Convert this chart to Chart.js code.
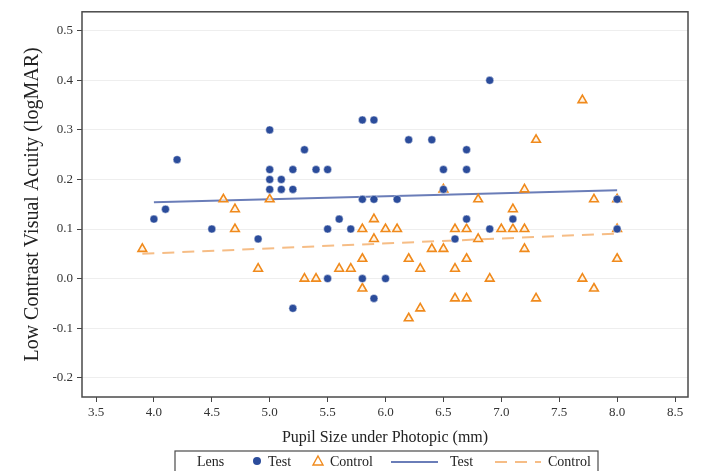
<!DOCTYPE html>
<html>
<head>
<meta charset="utf-8">
<script src="https://cdn.jsdelivr.net/npm/chart.js@4.4.1/dist/chart.umd.min.js"></script>
<style>
  html, body { margin: 0; padding: 0; background: #ffffff; }
  #wrap { width: 701px; height: 471px; }
</style>
</head>
<body>
<div id="wrap"><canvas id="c" width="701" height="471"></canvas></div>
<script>
// ---- Data ----
const testX = [4.0, 4.1, 4.2, 4.5, 4.9, 5.0, 5.0, 5.0, 5.0, 5.1, 5.1, 5.2, 5.2, 5.2, 5.3, 5.4, 5.5, 5.5, 5.5, 5.6, 5.7, 5.8, 5.8, 5.8, 5.9, 5.9, 5.9, 6.0, 6.1, 6.2, 6.4, 6.5, 6.5, 6.6, 6.7, 6.7, 6.7, 6.9, 6.9, 7.1, 8.0, 8.0];
const testY = [0.12, 0.14, 0.24, 0.10, 0.08, 0.30, 0.22, 0.20, 0.18, 0.20, 0.18, 0.22, 0.18, -0.06, 0.26, 0.22, 0.22, 0.10, 0.00, 0.12, 0.10, 0.32, 0.16, 0.00, 0.32, 0.16, -0.04, 0.00, 0.16, 0.28, 0.28, 0.22, 0.18, 0.08, 0.26, 0.22, 0.12, 0.40, 0.10, 0.12, 0.16, 0.10];

const controlX = [3.9, 4.6, 4.7, 4.7, 4.9, 5.0, 5.3, 5.4, 5.6, 5.7, 5.8, 5.8, 5.8, 5.9, 5.9, 6.0, 6.1, 6.2, 6.2, 6.3, 6.3, 6.4, 6.5, 6.5, 6.6, 6.6, 6.6, 6.7, 6.7, 6.7, 6.8, 6.8, 6.9, 7.0, 7.1, 7.1, 7.2, 7.2, 7.2, 7.3, 7.3, 7.7, 7.7, 7.8, 7.8, 8.0, 8.0, 8.0];
const controlY = [0.06, 0.16, 0.14, 0.10, 0.02, 0.16, 0.00, 0.00, 0.02, 0.02, 0.10, 0.04, -0.02, 0.12, 0.08, 0.10, 0.10, 0.04, -0.08, 0.02, -0.06, 0.06, 0.18, 0.06, 0.10, 0.02, -0.04, 0.10, 0.04, -0.04, 0.16, 0.08, 0.00, 0.10, 0.14, 0.10, 0.18, 0.10, 0.06, 0.28, -0.04, 0.36, 0.00, 0.16, -0.02, 0.16, 0.10, 0.04];

const testFitX = [4.0, 8.0];
const testFitY = [0.154, 0.178];
const controlFitX = [3.9, 8.0];
const controlFitY = [0.050, 0.091];

const xTicks = [3.5, 4.0, 4.5, 5.0, 5.5, 6.0, 6.5, 7.0, 7.5, 8.0, 8.5];
const yTicks = [-0.2, -0.1, 0.0, 0.1, 0.2, 0.3, 0.4, 0.5];

const xTitle = 'Pupil Size under Photopic (mm)';
const yTitle = 'Low Contrast Visual Acuity (logMAR)';
const legendTitle = 'Lens';
const seriesNames = ['Test', 'Control'];

// ---- Styles ----
const FONT = '"Liberation Serif", "DejaVu Serif", serif';
const BLUE_PT = '#2b4c9b';
const BLUE_LN = '#6a7db8';
const ORANGE_PT = '#f08a1c';
const ORANGE_LN = '#f6bd86';

function pts(xs, ys) { return xs.map((x, i) => ({ x: x, y: ys[i] })); }

const framePlugin = {
  id: 'frame',
  afterDraw(chart) {
    const { ctx, chartArea: a } = chart;
    ctx.save();
    ctx.strokeStyle = '#4a4a4a';
    ctx.lineWidth = 1.5;
    ctx.strokeRect(a.left, a.top, a.right - a.left, a.bottom - a.top);
    ctx.restore();
  }
};

const legendPlugin = {
  id: 'customLegend',
  afterDraw(chart) {
    const ctx = chart.ctx;
    ctx.save();
    const top = 451, bottom = 475, left = 175, right = 598;
    ctx.strokeStyle = '#4a4a4a';
    ctx.lineWidth = 1.2;
    ctx.strokeRect(left, top, right - left, bottom - top);
    const cy = 462;
    ctx.font = '14px ' + FONT;
    ctx.fillStyle = '#222';
    ctx.textBaseline = 'middle';
    ctx.textAlign = 'left';
    ctx.fillText(legendTitle, 197, cy);
    // circle marker
    ctx.beginPath();
    ctx.arc(257, cy - 1, 4, 0, Math.PI * 2);
    ctx.fillStyle = BLUE_PT;
    ctx.fill();
    ctx.fillStyle = '#222';
    ctx.fillText(seriesNames[0], 268, cy);
    // triangle marker
    ctx.beginPath();
    ctx.moveTo(318, cy - 6);
    ctx.lineTo(323, cy + 3);
    ctx.lineTo(313, cy + 3);
    ctx.closePath();
    ctx.strokeStyle = ORANGE_PT;
    ctx.lineWidth = 1.4;
    ctx.stroke();
    ctx.fillStyle = '#222';
    ctx.fillText(seriesNames[1], 330, cy);
    // solid line
    ctx.beginPath();
    ctx.moveTo(391, cy);
    ctx.lineTo(438, cy);
    ctx.strokeStyle = BLUE_LN;
    ctx.lineWidth = 2;
    ctx.setLineDash([]);
    ctx.stroke();
    ctx.fillText(seriesNames[0], 450, cy);
    // dashed line
    ctx.beginPath();
    ctx.moveTo(495, cy);
    ctx.lineTo(541, cy);
    ctx.strokeStyle = ORANGE_LN;
    ctx.setLineDash([12, 8]);
    ctx.stroke();
    ctx.setLineDash([]);
    ctx.fillText(seriesNames[1], 548, cy);
    ctx.restore();
  }
};

new Chart(document.getElementById('c'), {
  type: 'scatter',
  data: {
    datasets: [
      {
        label: seriesNames[0],
        data: pts(testX, testY),
        pointStyle: 'circle',
        pointRadius: 4,
        pointBackgroundColor: BLUE_PT,
        pointBorderColor: 'rgba(255,255,255,0.6)',
        pointBorderWidth: 0.8
      },
      {
        label: seriesNames[1],
        data: pts(controlX, controlY),
        pointStyle: 'triangle',
        pointRadius: 5,
        pointBackgroundColor: 'rgba(255,240,220,0.7)',
        pointBorderColor: ORANGE_PT,
        pointBorderWidth: 1.6
      },
      {
        label: seriesNames[0] + ' fit',
        data: pts(testFitX, testFitY),
        showLine: true,
        pointRadius: 0,
        borderColor: BLUE_LN,
        borderWidth: 2
      },
      {
        label: seriesNames[1] + ' fit',
        data: pts(controlFitX, controlFitY),
        showLine: true,
        pointRadius: 0,
        borderColor: ORANGE_LN,
        borderWidth: 2,
        borderDash: [12, 8]
      }
    ]
  },
  options: {
    responsive: false,
    animation: false,
    layout: { padding: { top: 11, right: 13, left: 0, bottom: 24 } },
    plugins: {
      legend: { display: false },
      tooltip: { enabled: false }
    },
    scales: {
      x: {
        type: 'linear',
        min: 3.379,
        max: 8.612,
        afterBuildTicks(scale) { scale.ticks = xTicks.map(v => ({ value: v })); },
        afterFit(scale) { scale.height = 50; },
        ticks: {
          callback: v => Number(v).toFixed(1),
          font: { family: FONT, size: 13 },
          color: '#333',
          padding: 3,
          maxRotation: 0,
          autoSkip: false
        },
        grid: { drawOnChartArea: false, tickColor: '#444', tickLength: 5, tickWidth: 1 },
        border: { display: false },
        title: {
          display: true,
          text: xTitle,
          font: { family: FONT, size: 16 },
          color: '#222',
          padding: { top: 3, bottom: 0 }
        }
      },
      y: {
        type: 'linear',
        min: -0.2389,
        max: 0.5383,
        afterBuildTicks(scale) { scale.ticks = yTicks.map(v => ({ value: v })); },
        afterFit(scale) { scale.width = 82; },
        ticks: {
          callback: v => Number(v).toFixed(1),
          font: { family: FONT, size: 13 },
          color: '#333',
          padding: 4,
          autoSkip: false
        },
        grid: { color: '#eeeeee', lineWidth: 1, tickColor: '#444', tickLength: 5, tickWidth: 1 },
        border: { display: false },
        title: {
          display: true,
          text: yTitle,
          font: { family: FONT, size: 20 },
          color: '#222',
          padding: { top: 21, bottom: 0 }
        }
      }
    }
  },
  plugins: [framePlugin, legendPlugin]
});
</script>
</body>
</html>
